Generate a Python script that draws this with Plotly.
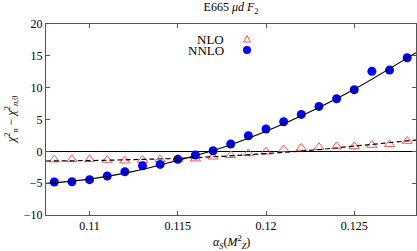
import plotly.graph_objects as go

alpha = [0.108, 0.109, 0.110, 0.111, 0.112, 0.113, 0.114, 0.115, 0.116, 0.117, 0.118,
         0.119, 0.120, 0.121, 0.122, 0.123, 0.124, 0.125, 0.126, 0.127, 0.128]
nlo = [-1.30, -1.26, -1.26, -1.36, -1.47, -1.36, -1.26, -1.20, -1.15, -0.85, -0.63,
       -0.32, -0.06, 0.30, 0.52, 0.63, 0.78, 0.78, 0.99, 1.10, 1.62]
nnlo = [-4.82, -4.77, -4.45, -3.88, -3.20, -2.26, -2.05, -1.26, -0.58, 0.10, 1.15,
        2.45, 3.50, 4.65, 5.80, 7.06, 8.26, 9.67, 12.56, 12.76, 14.70]

fit_x = [0.1075, 0.110, 0.1125, 0.115, 0.1175, 0.120, 0.1225, 0.125, 0.1285]
fit_nlo = [-1.52, -1.45, -1.30, -1.10, -0.78, -0.35, 0.15, 0.82, 1.77]
fit_nnlo = [-5.05, -4.36, -3.15, -1.42, 0.56, 3.15, 6.22, 9.75, 15.5]

x_ticks = [0.11, 0.115, 0.12, 0.125]
x_ticktext = ["0.11", "0.115", "0.12", "0.125"]
y_ticks = [-10, -5, 0, 5, 10, 15, 20]

FONT = "Liberation Serif"
RED = "#ff5050"
BLUE = "#0000ff"

fig = go.Figure()
fig.add_trace(go.Scatter(x=alpha, y=nlo, mode="markers", name="NLO",
                         marker=dict(symbol="triangle-up-open", size=9, color=RED,
                                     line=dict(width=1, color=RED))))
fig.add_trace(go.Scatter(x=alpha, y=nnlo, mode="markers", name="NNLO",
                         marker=dict(symbol="circle", size=9, color=BLUE,
                                     line=dict(width=0))))
fig.add_trace(go.Scatter(x=fit_x, y=fit_nlo, mode="lines", line_shape="spline",
                         line=dict(color="black", width=1.2, dash="5px,3px"),
                         showlegend=False))
fig.add_trace(go.Scatter(x=fit_x, y=fit_nnlo, mode="lines", line_shape="spline",
                         line=dict(color="black", width=1.2), showlegend=False))

W, H = 417, 251
ml, mr, mt, mb = 46, 1, 24, 36
pw, ph = W - ml - mr, H - mt - mb


def px(xp):
    return (xp - ml) / pw


def py(yp):
    return (H - mb - yp) / ph


axis_common = dict(showgrid=False, showline=True, linecolor="#555555", linewidth=1,
                   mirror="ticks", ticks="inside", ticklen=4, tickcolor="#555555",
                   automargin=False,
                   tickfont=dict(family=FONT, size=12, color="black"))

fig.update_layout(
    width=W, height=H,
    margin=dict(l=ml, r=mr, t=mt, b=mb, autoexpand=False),
    paper_bgcolor="white", plot_bgcolor="white",
    showlegend=False,
    font=dict(family=FONT, size=12, color="black"),
    title=dict(text="E665 <i>μd F</i><sub>2</sub>", x=0.5, xref="paper",
               y=1 - 7 / H, yanchor="middle", font=dict(family=FONT, size=12)),
    xaxis=dict(range=[0.10753, 0.1285], tickvals=x_ticks, ticktext=x_ticktext,
               zeroline=False, **axis_common),
    yaxis=dict(range=[-10, 20], tickvals=y_ticks, zeroline=True, zerolinecolor="black",
               zerolinewidth=1, **axis_common),
    annotations=[
        dict(text="<i>α<sub>S</sub></i>(<i>M</i><sup>2</sup><sub><i>Z</i></sub>)",
             xref="paper", yref="paper", x=0.5, y=py(242), showarrow=False,
             xanchor="center", yanchor="middle", font=dict(family=FONT, size=12)),
        dict(text="<i>χ</i><sup>2</sup><sub><i>n</i></sub> − <i>χ</i><sup>2</sup><sub><i>n</i>,0</sub>",
             xref="paper", yref="paper", x=px(11), y=py(120), showarrow=False,
             textangle=-90, xanchor="center", yanchor="middle",
             font=dict(family=FONT, size=12)),
        dict(text="NLO", xref="paper", yref="paper", x=px(226), y=py(39),
             showarrow=False, xanchor="right", yanchor="middle",
             font=dict(family=FONT, size=13)),
        dict(text="NNLO", xref="paper", yref="paper", x=px(226), y=py(50),
             showarrow=False, xanchor="right", yanchor="middle",
             font=dict(family=FONT, size=13)),
    ],
    shapes=[
        dict(type="path", xref="paper", yref="paper",
             path=f"M {px(243.5)} {py(42)} L {px(250.5)} {py(42)} L {px(247)} {py(35.5)} Z",
             line=dict(color=RED, width=1), fillcolor="rgba(0,0,0,0)"),
        dict(type="circle", xref="paper", yref="paper",
             x0=px(243), x1=px(251), y0=py(54), y1=py(46),
             line=dict(width=0), fillcolor=BLUE),
    ],
)

fig.write_html("out.html", config={"displayModeBar": False},
               post_script="document.body.style.margin='0';")
